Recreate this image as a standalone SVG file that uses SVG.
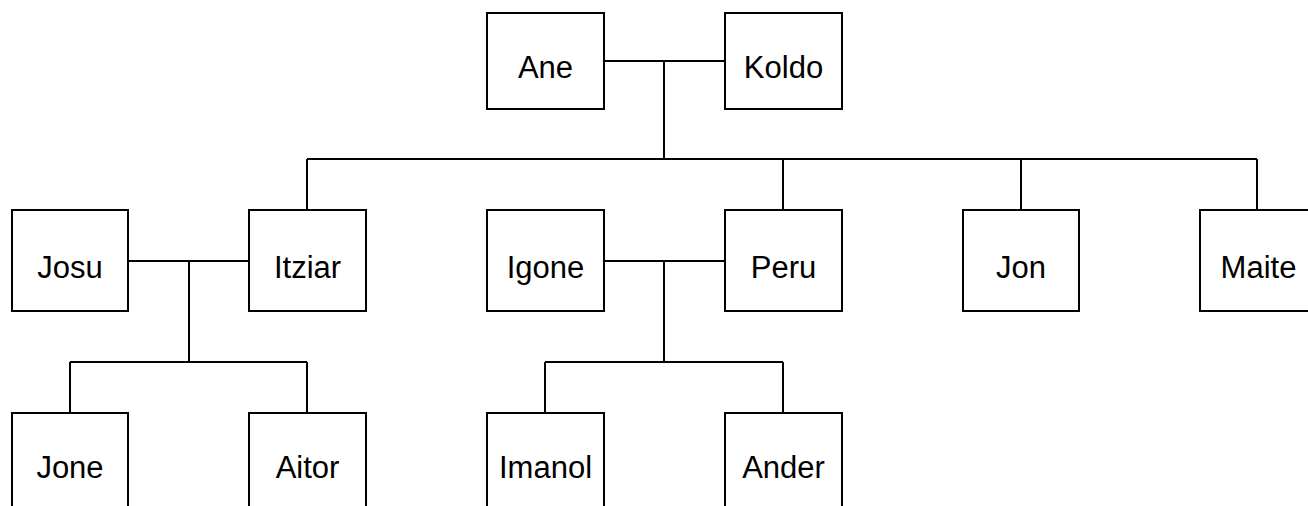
<svg xmlns="http://www.w3.org/2000/svg" width="1308" height="506" viewBox="0 0 1308 506">
<style>
.box{fill:#fff;stroke:#000;stroke-width:2}
.lbl{font-family:"Liberation Sans",Arial,sans-serif;font-size:31px;fill:#000;text-anchor:middle}
.con{fill:none;stroke:#000;stroke-width:2}
</style>
<rect width="1308" height="506" fill="#fff"/>
<g id="connectors">
<path class="con" d="M605 61H725M664 61V159"/>
<path class="con" d="M307 159H1257M307 159V210M783 159V210M1021 159V210M1257 159V210"/>
<path class="con" d="M128 261H249M189 261V362M70 362H307M70 362V413M307 362V413"/>
<path class="con" d="M604 261H725M664 261V362M545 362H783M545 362V413M783 362V413"/>
</g>
<g id="ane"><rect class="box" x="487" y="13" width="117" height="96"/><text class="lbl" x="545.5" y="78">Ane</text></g>
<g id="koldo"><rect class="box" x="725" y="13" width="117" height="96"/><text class="lbl" x="783.5" y="78">Koldo</text></g>
<g id="josu"><rect class="box" x="12" y="210" width="116" height="101"/><text class="lbl" x="70" y="277.5">Josu</text></g>
<g id="itziar"><rect class="box" x="249" y="210" width="117" height="101"/><text class="lbl" x="307.5" y="277.5">Itziar</text></g>
<g id="igone"><rect class="box" x="487" y="210" width="117" height="101"/><text class="lbl" x="545.5" y="277.5">Igone</text></g>
<g id="peru"><rect class="box" x="725" y="210" width="117" height="101"/><text class="lbl" x="783.5" y="277.5">Peru</text></g>
<g id="jon"><rect class="box" x="963" y="210" width="116" height="101"/><text class="lbl" x="1021" y="277.5">Jon</text></g>
<g id="maite"><rect class="box" x="1200" y="210" width="117" height="101"/><text class="lbl" x="1258.5" y="277.5">Maite</text></g>
<g id="jone"><rect class="box" x="12" y="413" width="116" height="101"/><text class="lbl" x="70" y="478">Jone</text></g>
<g id="aitor"><rect class="box" x="249" y="413" width="117" height="101"/><text class="lbl" x="307.5" y="478">Aitor</text></g>
<g id="imanol"><rect class="box" x="487" y="413" width="117" height="101"/><text class="lbl" x="545.5" y="478">Imanol</text></g>
<g id="ander"><rect class="box" x="725" y="413" width="117" height="101"/><text class="lbl" x="783.5" y="478">Ander</text></g>
</svg>
